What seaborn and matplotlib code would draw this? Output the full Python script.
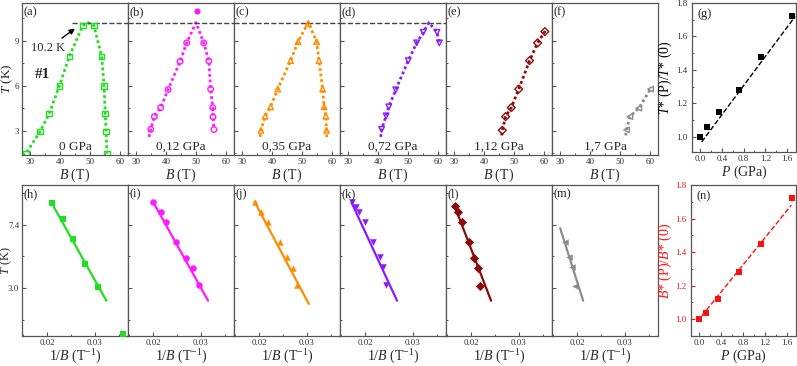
import numpy as np
import matplotlib
matplotlib.use('Agg')
import matplotlib.pyplot as plt
import matplotlib.ticker as mtick
import seaborn as sns

sns.set_style('ticks')
plt.rcParams['font.family'] = ['Liberation Serif', 'DejaVu Serif']
plt.rcParams['mathtext.fontset'] = 'custom'
plt.rcParams['mathtext.it'] = 'Liberation Serif:italic'
plt.rcParams['mathtext.rm'] = 'Liberation Serif'

# ---- data: top row, T vs B ----
pressures = ['0 GPa', '0,12 GPa', '0,35 GPa', '0,72 GPa', '1,12 GPa', '1,7 GPa']
top_letters = ['(a)', '(b)', '(c)', '(d)', '(e)', '(f)']
bot_letters = ['(h)', '(i)', '(j)', '(k)', '(l)', '(m)']
colors = ['#1fe01f', '#ff1aff', '#ff8c00', '#8a1aff', '#8b0a0a', '#8c8c8c']
markers = ['s', 'o', '^', 'v', 'D', '<']

B_a = [28.6, 33.3, 36.4, 39.8, 43.1, 47.6, 51.3, 53.9, 54.7, 55.1, 55.4, 55.7]
T_a = [1.5, 2.95, 4.15, 6.0, 7.95, 10.0, 10.0, 7.95, 6.0, 4.15, 2.95, 1.5]
curveB_a = [27.8, 28.6, 33.3, 36.4, 39.8, 43.1, 47.6, 49.3, 51.3, 53.9, 54.7, 55.1, 55.4, 55.7, 55.9]
curveT_a = [1.3, 1.5, 2.95, 4.15, 6.0, 7.95, 10.0, 10.2, 10.0, 7.95, 6.0, 4.15, 2.95, 1.5, 1.3]

B_b = [34.9, 36.1, 38.2, 40.7, 44.7, 46.9, 52.6, 54.3, 54.9, 55.6, 55.7, 56.0]
T_b = [3.1, 3.95, 4.55, 5.75, 7.62, 8.85, 8.85, 7.65, 5.78, 4.55, 3.93, 3.09]
curveB_b = [34.3, 34.9, 36.1, 38.2, 40.7, 44.7, 46.9, 50.0, 52.6, 54.3, 54.9, 55.6, 55.7, 56.0]
curveT_b = [2.6, 3.1, 3.95, 4.55, 5.75, 7.62, 8.85, 10.2, 8.85, 7.65, 5.78, 4.55, 3.93, 3.09]
outlier_B_b = [50.2]
outlier_T_b = [10.95]

B_c = [36.3, 37.7, 39.5, 41.9, 46.2, 48.7, 52.1, 54.9, 55.7, 56.9, 57.4, 58.0, 58.2]
T_c = [3.04, 3.98, 4.6, 5.78, 7.67, 8.93, 10.15, 8.93, 7.67, 5.78, 4.6, 3.98, 3.04]
curveB_c = [36.0, 36.3, 37.7, 39.5, 41.9, 46.2, 48.7, 52.1, 54.9, 55.7, 56.9, 57.4, 58.0, 58.2, 58.3]
curveT_c = [2.6, 3.04, 3.98, 4.6, 5.78, 7.67, 8.93, 10.2, 8.93, 7.67, 5.78, 4.6, 3.98, 3.04, 2.5]

B_d = [41.2, 42.7, 43.6, 45.9, 50.1, 52.9, 55.1, 59.7, 60.5]
T_d = [3.1, 4.0, 4.6, 5.73, 7.67, 8.85, 9.55, 9.55, 8.85]
curveB_d = [40.9, 41.2, 42.7, 43.6, 45.9, 50.1, 52.9, 55.1, 57.0, 59.7, 60.5]
curveT_d = [2.6, 3.1, 4.0, 4.6, 5.73, 7.67, 8.85, 9.55, 10.2, 9.55, 8.85]

B_e = [46.1, 47.2, 49.1, 51.6, 55.2, 57.9, 60.3]
T_e = [3.04, 3.95, 4.55, 5.78, 7.67, 8.85, 9.6]
curveB_e = [45.9, 46.1, 47.2, 49.1, 51.6, 55.2, 57.9, 60.3, 60.5]
curveT_e = [2.7, 3.04, 3.95, 4.55, 5.78, 7.67, 8.85, 9.6, 9.7]

B_f = [52.2, 53.3, 56.3, 60.2]
T_f = [3.07, 3.95, 4.51, 5.78]
curveB_f = [51.9, 52.2, 53.3, 56.3, 60.2, 60.4]
curveT_f = [2.7, 3.07, 3.95, 4.51, 5.78, 5.9]

# ---- data: bottom row, T (log) vs 1/B ----
invB_h = [0.0210, 0.0234, 0.0254, 0.0279, 0.0306, 0.0359]
lnT_h = [10.1, 8.06, 6.03, 4.23, 3.03, 1.55]
fitX_h, fitT_h = [0.0210, 0.0324], [10.1, 2.50]

invB_i = [0.0201, 0.0216, 0.0227, 0.0249, 0.0268, 0.0283, 0.0295]
lnT_i = [10.2, 8.95, 7.69, 5.83, 4.63, 4.01, 3.12]
fitX_i, fitT_i = [0.0201, 0.0315], [10.2, 2.50]

invB_j = [0.0192, 0.0204, 0.0218, 0.0243, 0.0258, 0.0270, 0.0280]
lnT_j = [10.2, 8.95, 7.69, 5.83, 4.66, 4.01, 3.15]
fitX_j, fitT_j = [0.0191, 0.0304], [10.3, 2.39]

invB_k = [0.0172, 0.0181, 0.0188, 0.0200, 0.0217, 0.0232, 0.0237, 0.0244]
lnT_k = [10.2, 9.62, 8.95, 7.76, 5.83, 4.66, 4.04, 3.12]
fitX_k, fitT_k = [0.0172, 0.0267], [10.2, 2.50]

invB_l = [0.0167, 0.0172, 0.0182, 0.0195, 0.0207, 0.0214, 0.0219]
lnT_l = [9.72, 8.95, 7.76, 5.83, 4.63, 4.01, 3.09]
fitX_l, fitT_l = [0.0165, 0.0242], [9.86, 2.50]

invB_m = [0.0175, 0.0184, 0.0189, 0.0196]
lnT_m = [5.83, 4.66, 4.04, 3.11]
fitX_m, fitT_m = [0.0165, 0.0213], [7.06, 2.50]

# ---- data: pressure dependence ----
P_vals = [0.0, 0.12, 0.35, 0.72, 1.12, 1.7]
T_ratio = [1.0, 1.06, 1.15, 1.28, 1.48, 1.72]
B_ratio = [1.0, 1.04, 1.12, 1.28, 1.45, 1.72]
fitP_g, fitR_g = [0.03, 1.75], [0.97, 1.72]
fitP_n, fitR_n = [0.05, 1.68], [1.02, 1.68]

top_B = [B_a, B_b, B_c, B_d, B_e, B_f]
top_T = [T_a, T_b, T_c, T_d, T_e, T_f]
curve_B = [curveB_a, curveB_b, curveB_c, curveB_d, curveB_e, curveB_f]
curve_T = [curveT_a, curveT_b, curveT_c, curveT_d, curveT_e, curveT_f]
bot_x = [invB_h, invB_i, invB_j, invB_k, invB_l, invB_m]
bot_T = [lnT_h, lnT_i, lnT_j, lnT_k, lnT_l, lnT_m]
fit_x = [fitX_h, fitX_i, fitX_j, fitX_k, fitX_l, fitX_m]
fit_T = [fitT_h, fitT_i, fitT_j, fitT_k, fitT_l, fitT_m]

W, H = 797, 366
fig = plt.figure(figsize=(W / 100, H / 100), dpi=100)
fig.set_facecolor('white')


def px_axes(left, top, width, height):
    return fig.add_axes([left / W, 1 - (top + height) / H, width / W, height / H])


def style(ax):
    for s in ax.spines.values():
        s.set_color('#555555')
        s.set_linewidth(0.9)
    ax.tick_params(which='both', direction='in', color='#555555',
                   labelcolor='#333333', labelsize=6.5, pad=2.5)
    ax.tick_params(axis='y', which='both', pad=2.0)
    ax.tick_params(which='major', length=3, width=0.8)
    ax.tick_params(which='minor', length=1.6, width=0.7)


# top row
for k in range(6):
    ax = px_axes(22 + 106 * k, 3, 106, 152)
    style(ax)
    c = colors[k]
    sns.lineplot(x=curve_B[k], y=curve_T[k], ax=ax, color=c, sort=False,
                 linestyle=(0, (1, 1)), linewidth=2)
    sns.scatterplot(x=top_B[k], y=top_T[k], ax=ax, marker=markers[k], s=16,
                    facecolor='none', edgecolor=c, linewidth=1, zorder=3)
    if k == 1:
        sns.scatterplot(x=outlier_B_b, y=outlier_T_b, ax=ax, marker='o', s=20,
                        color=c, linewidth=0, zorder=3)
    ax.set_xlim(27.3, 62.7)
    ax.set_ylim(1.4, 11.5)
    ax.set_xticks([30, 40, 50, 60])
    ax.xaxis.set_minor_locator(mtick.MultipleLocator(5))
    ax.set_yticks([3, 6, 9])
    ax.yaxis.set_minor_locator(mtick.FixedLocator([1.5, 4.5, 7.5, 10.5]))
    ax.set_xlabel('$B$ (T)', fontsize=10, labelpad=0)
    if k == 0:
        ax.set_ylabel('$T$ (K)', fontsize=9.5)
        ax.yaxis.set_label_coords(-0.068, 0.5)
        ax.hlines(10.2, 44, 62.7, colors='#444444', linestyles='--', linewidth=1)
        ax.text(0.19, 0.53, '#1', transform=ax.transAxes, fontsize=11,
                fontweight='bold', ha='center', va='center')
        ax.annotate('10.2 K', xy=(45.0, 9.8), xytext=(36.0, 8.5), fontsize=9,
                    ha='center', va='center',
                    arrowprops=dict(arrowstyle='-|>', color='black', lw=1,
                                    mutation_scale=8, shrinkA=1, shrinkB=0))
    else:
        ax.set_ylabel('')
        ax.tick_params(axis='y', labelleft=False)
    if k in (1, 2, 3):
        ax.axhline(10.2, color='#444444', linestyle='--', linewidth=1)
    ax.text(0.5, 0.055, pressures[k], transform=ax.transAxes, ha='center',
            va='center', fontsize=9.5)
    ax.text(0.015, 0.94, top_letters[k], transform=ax.transAxes, ha='left',
            va='center', fontsize=9)

# bottom row
for k in range(6):
    ax = px_axes(22 + 106 * k, 185, 106, 151)
    style(ax)
    c = colors[k]
    ax.set_yscale('log')
    sns.lineplot(x=fit_x[k], y=fit_T[k], ax=ax, color=c, linewidth=1.6)
    sns.scatterplot(x=bot_x[k], y=bot_T[k], ax=ax, marker=markers[k], s=22,
                    color=c, linewidth=0, zorder=3, clip_on=False)
    ax.set_xlim(0.0148, 0.0369)
    ax.set_ylim(1.51, 13.1)
    ax.set_xticks([0.02, 0.03])
    ax.xaxis.set_major_formatter(mtick.FormatStrFormatter('%.2f'))
    ax.xaxis.set_minor_locator(mtick.FixedLocator([0.015, 0.025, 0.035]))
    ax.set_yticks([3.0, 7.4])
    ax.yaxis.set_major_formatter(mtick.FixedFormatter(['3.0', '7.4']))
    ax.yaxis.set_minor_locator(mtick.FixedLocator([1.91, 4.71, 11.6]))
    ax.yaxis.set_minor_formatter(mtick.NullFormatter())
    ax.set_xlabel('1/$B$ (T$^{-1}$)', fontsize=10, labelpad=0)
    if k == 0:
        ax.set_ylabel('$T$ (K)', fontsize=9)
        ax.yaxis.set_label_coords(-0.075, 0.5)
    else:
        ax.set_ylabel('')
        ax.tick_params(axis='y', labelleft=False)
    ax.text(0.015, 0.94, bot_letters[k], transform=ax.transAxes, ha='left',
            va='center', fontsize=9)

# (g) and (n)
for which in ('g', 'n'):
    if which == 'g':
        ax = px_axes(692, 3, 104, 149)
        c = 'black'
        sns.lineplot(x=fitP_g, y=fitR_g, ax=ax, color=c, linestyle='--', linewidth=1)
        sns.scatterplot(x=P_vals, y=T_ratio, ax=ax, marker='s', s=22, color=c,
                        linewidth=0, zorder=3)
        ax.set_ylim(0.91, 1.8)
        ylab = '$T$* (P)/$T$* (0)'
    else:
        ax = px_axes(691, 185, 105, 151)
        c = '#ff1010'
        sns.lineplot(x=fitP_n, y=fitR_n, ax=ax, color=c, linestyle='--', linewidth=1)
        sns.scatterplot(x=P_vals, y=B_ratio, ax=ax, marker='s', s=22, color=c,
                        linewidth=0, zorder=3)
        ax.set_ylim(0.9, 1.8)
        ylab = '$B$* (P)/$B$* (0)'
    style(ax)
    ax.tick_params(axis='y', which='both', pad=3.5)
    ax.set_xlim(-0.147, 1.765)
    ax.set_xticks([0.0, 0.4, 0.8, 1.2, 1.6])
    ax.xaxis.set_major_formatter(mtick.FormatStrFormatter('%.1f'))
    ax.xaxis.set_minor_locator(mtick.MultipleLocator(0.2))
    ax.set_yticks([1.0, 1.2, 1.4, 1.6, 1.8])
    ax.yaxis.set_major_formatter(mtick.FormatStrFormatter('%.1f'))
    ax.yaxis.set_minor_locator(mtick.MultipleLocator(0.1))
    ax.set_xlabel('$P$ (GPa)', fontsize=10, labelpad=0)
    ax.set_ylabel(ylab, fontsize=10, labelpad=1, color=c if which == 'n' else 'black')
    if which == 'n':
        ax.tick_params(axis='y', which='both', color=c, labelcolor=c)
    ax.text(0.05, 0.925, '(' + which + ')', transform=ax.transAxes, ha='left',
            va='center', fontsize=9)

fig.savefig('out.png', dpi=100, facecolor='white')
